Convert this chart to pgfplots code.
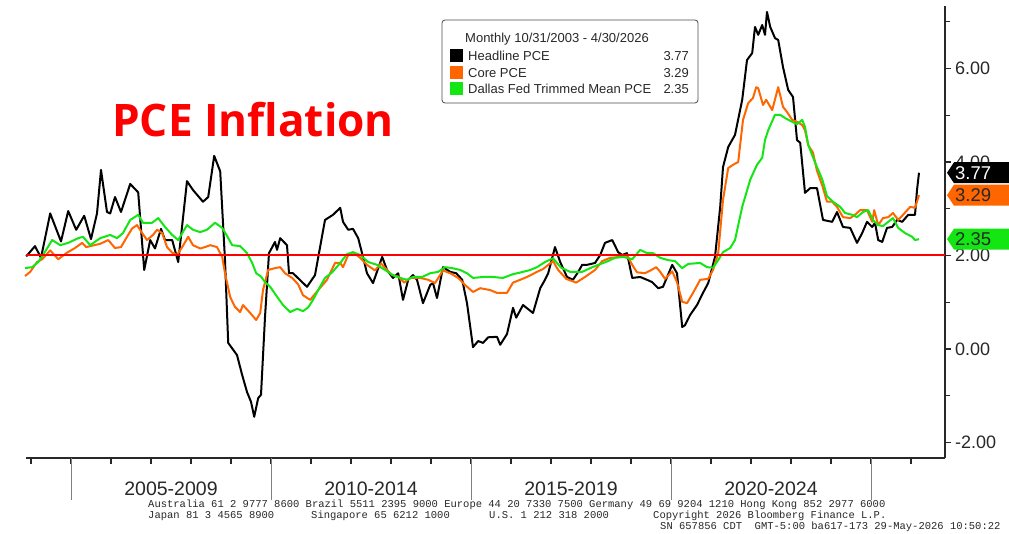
\documentclass[border=0pt]{standalone}
\usepackage{fontspec}
\setmainfont{Liberation Sans}
\setmonofont{Liberation Mono}
\newfontfamily\titlefont{Open Sans}
\usepackage{pgfplots}
\pgfplotsset{compat=1.18}
\definecolor{bborange}{RGB}{255,102,0}
\definecolor{bbgreen}{RGB}{20,230,20}
\definecolor{bbred}{RGB}{255,0,0}
\definecolor{bbaxis}{RGB}{40,40,40}
\begin{document}
\begin{tikzpicture}
\path[use as bounding box, fill=white] (0,0) rectangle (1009pt,534pt);
\begin{axis}[
  at={(26pt,76pt)}, anchor=south west,
  scale only axis, width=919pt, height=452pt,
  xmin=2003.875, xmax=2026.85, ymin=-2.332, ymax=7.337,
  axis x line*=bottom, axis y line*=right,
  axis line style={line width=1.2pt, bbaxis},
  clip=false,
  ytick={-2,0,2,4,6}, yticklabels={-2.00,0.00,2.00,4.00,6.00},
  minor ytick={-1,1,3,5,7},
  xtick={2004,...,2026}, xticklabels={},
  tick align=outside,
  major tick length=6pt, minor tick length=5pt,
  tick style={line width=1.2pt, bbaxis},
  yticklabel style={font=\fontsize{18}{18}\selectfont, text=bbaxis, inner sep=0pt, anchor=west, xshift=4pt},
]
\addplot[black, line width=2pt, line join=round] coordinates {
(2003.88,1.98)(2004.10,2.20)(2004.25,1.95)(2004.48,2.90)(2004.75,2.30)(2004.93,2.95)(2005.13,2.55)(2005.33,2.85)(2005.50,2.35)(2005.65,2.90)(2005.75,3.83)(2005.90,2.93)(2005.98,2.90)(2006.10,3.25)(2006.25,2.93)(2006.48,3.53)(2006.68,3.35)(2006.83,1.69)(2006.98,2.33)(2007.10,2.15)(2007.25,2.57)(2007.35,2.33)(2007.53,2.33)(2007.68,1.86)(2007.90,3.59)(2008.05,3.40)(2008.30,3.15)(2008.43,3.25)(2008.58,4.13)(2008.73,3.80)(2008.85,1.90)(2008.93,0.13)(2009.15,-0.13)(2009.28,-0.56)(2009.40,-0.92)(2009.50,-1.13)(2009.58,-1.45)(2009.68,-1.05)(2009.75,-0.98)(2009.85,0.68)(2009.95,2.05)(2010.10,2.29)(2010.15,2.12)(2010.23,2.37)(2010.40,2.22)(2010.45,1.62)(2010.55,1.62)(2010.90,1.33)(2011.10,1.58)(2011.35,2.76)(2011.55,2.87)(2011.73,3.02)(2011.80,2.72)(2011.93,2.55)(2012.05,2.57)(2012.18,2.37)(2012.30,1.97)(2012.40,1.62)(2012.55,1.41)(2012.78,1.97)(2012.90,1.69)(2013.05,1.52)(2013.18,1.62)(2013.30,1.05)(2013.43,1.48)(2013.55,1.58)(2013.65,1.48)(2013.80,0.98)(2013.98,1.37)(2014.05,1.41)(2014.15,1.09)(2014.30,1.75)(2014.48,1.65)(2014.63,1.62)(2014.78,1.48)(2014.90,0.98)(2015.05,0.04)(2015.18,0.17)(2015.30,0.13)(2015.43,0.25)(2015.65,0.26)(2015.73,0.09)(2015.90,0.32)(2016.05,0.88)(2016.13,0.67)(2016.30,0.94)(2016.55,0.77)(2016.73,1.30)(2016.83,1.45)(2016.93,1.62)(2017.10,2.18)(2017.23,1.86)(2017.40,1.54)(2017.55,1.48)(2017.68,1.65)(2017.78,1.80)(2017.90,1.80)(2018.10,1.84)(2018.23,2.01)(2018.35,2.27)(2018.53,2.33)(2018.68,2.07)(2018.78,2.01)(2018.90,2.05)(2019.03,1.52)(2019.23,1.54)(2019.40,1.48)(2019.53,1.43)(2019.68,1.30)(2019.80,1.33)(2020.03,1.80)(2020.15,1.62)(2020.28,0.47)(2020.35,0.51)(2020.48,0.73)(2020.65,0.94)(2020.80,1.20)(2020.93,1.41)(2021.10,1.97)(2021.23,3.04)(2021.30,3.89)(2021.43,4.32)(2021.60,4.58)(2021.78,5.33)(2021.90,6.18)(2022.03,6.33)(2022.10,6.89)(2022.18,6.72)(2022.28,6.93)(2022.35,6.72)(2022.40,7.21)(2022.48,6.89)(2022.60,6.65)(2022.68,6.61)(2022.80,6.03)(2022.93,5.54)(2023.05,5.39)(2023.15,4.47)(2023.23,4.41)(2023.35,3.34)(2023.48,3.44)(2023.65,3.44)(2023.80,2.76)(2024.03,2.72)(2024.15,2.93)(2024.30,2.61)(2024.48,2.59)(2024.65,2.27)(2024.78,2.48)(2024.90,2.72)(2025.03,2.61)(2025.10,2.70)(2025.18,2.33)(2025.28,2.29)(2025.40,2.59)(2025.53,2.61)(2025.65,2.76)(2025.78,2.72)(2025.93,2.87)(2026.10,2.87)(2026.15,3.40)(2026.20,3.77)
};
\addplot[bborange, line width=2pt, line join=round] coordinates {
(2003.85,1.56)(2003.98,1.65)(2004.15,1.86)(2004.28,1.92)(2004.48,2.11)(2004.68,1.92)(2004.90,2.06)(2005.10,2.16)(2005.28,2.27)(2005.38,2.18)(2005.48,2.20)(2005.73,2.25)(2005.93,2.33)(2006.10,2.16)(2006.25,2.18)(2006.40,2.40)(2006.53,2.58)(2006.65,2.65)(2006.78,2.48)(2006.90,2.33)(2007.05,2.44)(2007.15,2.55)(2007.28,2.48)(2007.40,2.18)(2007.53,2.06)(2007.65,2.01)(2007.78,2.18)(2007.93,2.40)(2008.05,2.22)(2008.23,2.15)(2008.35,2.18)(2008.48,2.22)(2008.65,2.18)(2008.78,1.97)(2008.85,1.62)(2008.98,1.11)(2009.10,0.90)(2009.23,0.79)(2009.30,0.94)(2009.48,0.77)(2009.63,0.62)(2009.73,0.77)(2009.80,1.26)(2009.93,1.69)(2010.10,1.73)(2010.23,1.75)(2010.35,1.62)(2010.53,1.52)(2010.68,1.38)(2010.80,1.15)(2010.98,1.05)(2011.18,1.26)(2011.40,1.48)(2011.60,1.84)(2011.73,1.84)(2011.80,1.75)(2011.93,2.01)(2012.05,2.07)(2012.23,1.95)(2012.40,1.80)(2012.60,1.68)(2012.75,1.83)(2012.90,1.69)(2013.03,1.58)(2013.18,1.55)(2013.33,1.42)(2013.48,1.52)(2013.73,1.52)(2013.93,1.48)(2014.10,1.41)(2014.30,1.68)(2014.48,1.62)(2014.68,1.52)(2014.85,1.37)(2015.05,1.22)(2015.23,1.30)(2015.48,1.26)(2015.65,1.20)(2015.90,1.20)(2016.05,1.42)(2016.23,1.48)(2016.40,1.54)(2016.65,1.65)(2016.80,1.71)(2017.05,1.88)(2017.18,1.69)(2017.38,1.50)(2017.63,1.42)(2017.85,1.54)(2018.10,1.69)(2018.28,1.88)(2018.48,1.95)(2018.73,1.97)(2018.90,2.01)(2019.03,1.80)(2019.15,1.64)(2019.35,1.62)(2019.53,1.70)(2019.63,1.75)(2019.73,1.65)(2019.85,1.50)(2020.03,1.66)(2020.15,1.43)(2020.28,1.01)(2020.40,0.98)(2020.55,1.20)(2020.73,1.48)(2020.93,1.50)(2021.05,1.69)(2021.18,2.05)(2021.30,3.19)(2021.43,3.87)(2021.55,3.94)(2021.68,4.00)(2021.80,4.90)(2021.93,5.26)(2022.05,5.37)(2022.13,5.60)(2022.18,5.58)(2022.30,5.22)(2022.38,5.33)(2022.53,5.11)(2022.68,5.60)(2022.80,5.18)(2022.90,5.07)(2023.03,4.90)(2023.15,4.86)(2023.28,4.79)(2023.35,4.68)(2023.43,4.36)(2023.55,4.20)(2023.65,3.81)(2023.78,3.50)(2023.90,3.15)(2024.03,3.15)(2024.15,3.04)(2024.30,2.82)(2024.48,2.80)(2024.60,2.87)(2024.73,2.97)(2024.90,2.97)(2025.03,2.72)(2025.08,2.97)(2025.18,2.65)(2025.30,2.80)(2025.43,2.82)(2025.55,2.91)(2025.68,2.76)(2025.80,2.87)(2025.98,3.04)(2026.10,3.02)(2026.20,3.29)
};
\addplot[bbgreen, line width=2pt, line join=round] coordinates {
(2003.85,1.73)(2004.03,1.75)(2004.18,1.86)(2004.30,2.01)(2004.53,2.33)(2004.73,2.22)(2004.93,2.27)(2005.18,2.37)(2005.30,2.40)(2005.48,2.22)(2005.73,2.37)(2005.98,2.44)(2006.15,2.37)(2006.30,2.48)(2006.48,2.76)(2006.68,2.87)(2006.80,2.70)(2007.03,2.70)(2007.18,2.80)(2007.35,2.61)(2007.53,2.44)(2007.68,2.33)(2007.90,2.65)(2008.05,2.55)(2008.23,2.50)(2008.40,2.55)(2008.60,2.70)(2008.78,2.59)(2008.90,2.42)(2009.03,2.22)(2009.23,2.20)(2009.40,2.05)(2009.53,1.84)(2009.63,1.62)(2009.75,1.55)(2009.85,1.43)(2009.98,1.33)(2010.15,1.12)(2010.30,0.94)(2010.48,0.79)(2010.65,0.86)(2010.80,0.81)(2010.93,0.89)(2011.05,1.05)(2011.18,1.26)(2011.35,1.52)(2011.53,1.64)(2011.73,1.84)(2011.90,2.03)(2012.05,2.07)(2012.23,2.01)(2012.43,1.86)(2012.65,1.80)(2012.85,1.69)(2013.05,1.58)(2013.23,1.52)(2013.40,1.48)(2013.55,1.54)(2013.78,1.54)(2013.98,1.62)(2014.18,1.65)(2014.35,1.75)(2014.53,1.73)(2014.73,1.69)(2014.90,1.62)(2015.05,1.52)(2015.30,1.54)(2015.55,1.54)(2015.80,1.52)(2016.05,1.60)(2016.30,1.65)(2016.48,1.69)(2016.65,1.75)(2016.85,1.86)(2017.05,1.94)(2017.25,1.74)(2017.48,1.65)(2017.78,1.65)(2017.98,1.73)(2018.18,1.80)(2018.40,1.87)(2018.60,1.95)(2018.80,1.97)(2019.03,1.92)(2019.23,2.12)(2019.40,2.05)(2019.55,2.05)(2019.73,1.95)(2019.93,1.90)(2020.10,1.88)(2020.28,1.73)(2020.43,1.82)(2020.73,1.84)(2020.90,1.75)(2021.05,1.74)(2021.18,1.90)(2021.30,2.07)(2021.48,2.16)(2021.60,2.33)(2021.78,3.04)(2021.98,3.62)(2022.15,3.94)(2022.28,4.09)(2022.35,4.47)(2022.43,4.68)(2022.60,5.01)(2022.73,5.01)(2022.85,4.94)(2023.03,4.86)(2023.15,4.81)(2023.28,4.90)(2023.35,4.75)(2023.43,4.37)(2023.55,4.10)(2023.65,3.89)(2023.78,3.63)(2023.90,3.27)(2024.05,3.15)(2024.23,3.04)(2024.35,2.91)(2024.53,2.87)(2024.65,2.82)(2024.80,2.93)(2024.93,2.97)(2025.05,2.76)(2025.18,2.65)(2025.30,2.63)(2025.43,2.72)(2025.55,2.80)(2025.68,2.59)(2025.85,2.48)(2026.03,2.40)(2026.10,2.33)(2026.20,2.35)
};
\addplot[draw=bbred, color=bbred, line width=2pt, mark=none] coordinates {(2003.875,2) (2026.85,2)};
\pgfplotsinvokeforeach{2005,2010,2015,2020,2025}{
  \draw[gray, line width=0.8pt] (axis cs:#1,-2.332) -- ++(0pt,-42pt);
}
\node[anchor=base, inner sep=0pt, yshift=-38pt, font=\fontsize{19.5}{19.5}\selectfont, text=bbaxis] at (axis cs:2007.5,-2.332) {2005-2009};
\node[anchor=base, inner sep=0pt, yshift=-38pt, font=\fontsize{19.5}{19.5}\selectfont, text=bbaxis] at (axis cs:2012.5,-2.332) {2010-2014};
\node[anchor=base, inner sep=0pt, yshift=-38pt, font=\fontsize{19.5}{19.5}\selectfont, text=bbaxis] at (axis cs:2017.5,-2.332) {2015-2019};
\node[anchor=base, inner sep=0pt, yshift=-38pt, font=\fontsize{19.5}{19.5}\selectfont, text=bbaxis] at (axis cs:2022.5,-2.332) {2020-2024};
\coordinate (b1) at (axis cs:2026.85,3.77);
\coordinate (b2) at (axis cs:2026.85,3.29);
\coordinate (b3) at (axis cs:2026.85,2.35);
\end{axis}
% value boxes
\fill[black] ([xshift=2pt]b1) -- ++(7pt,10.5pt) -- ++(60pt,0pt) -- ++(0pt,-21pt) -- ++(-60pt,0pt) -- cycle;
\node[anchor=west, inner sep=0pt, text=white, font=\fontsize{18.5}{18.5}\selectfont] at ([xshift=10pt]b1) {3.77};
\fill[bborange] ([xshift=2pt]b2) -- ++(7pt,10.5pt) -- ++(60pt,0pt) -- ++(0pt,-21pt) -- ++(-60pt,0pt) -- cycle;
\node[anchor=west, inner sep=0pt, text=bbaxis, font=\fontsize{18.5}{18.5}\selectfont] at ([xshift=10pt]b2) {3.29};
\fill[bbgreen] ([xshift=2pt]b3) -- ++(7pt,10.5pt) -- ++(60pt,0pt) -- ++(0pt,-21pt) -- ++(-60pt,0pt) -- cycle;
\node[anchor=west, inner sep=0pt, text=bbaxis, font=\fontsize{18.5}{18.5}\selectfont] at ([xshift=10pt]b3) {2.35};
% legend
\draw[rounded corners=3pt, gray!60!black, line width=0.8pt, fill=white] (442pt,431pt) rectangle (698pt,514pt);
\node[anchor=base west, inner sep=0pt, font=\fontsize{13}{13}\selectfont, text=bbaxis] at (465pt,491pt) {Monthly 10/31/2003 - 4/30/2026};
\fill[black] (450pt,471.5pt) rectangle (463pt,484.5pt);
\fill[bborange] (450pt,454.5pt) rectangle (463pt,467.5pt);
\fill[bbgreen] (450pt,438.5pt) rectangle (463pt,451.5pt);
\node[anchor=base west, inner sep=0pt, font=\fontsize{13}{13}\selectfont, text=bbaxis] at (468pt,473.3pt) {Headline PCE};
\node[anchor=base west, inner sep=0pt, font=\fontsize{13}{13}\selectfont, text=bbaxis] at (468pt,456.3pt) {Core PCE};
\node[anchor=base west, inner sep=0pt, font=\fontsize{13}{13}\selectfont, text=bbaxis] at (468pt,440.3pt) {Dallas Fed Trimmed Mean PCE};
\node[anchor=base east, inner sep=0pt, font=\fontsize{13}{13}\selectfont, text=bbaxis] at (689pt,473.3pt) {3.77};
\node[anchor=base east, inner sep=0pt, font=\fontsize{13}{13}\selectfont, text=bbaxis] at (689pt,456.3pt) {3.29};
\node[anchor=base east, inner sep=0pt, font=\fontsize{13}{13}\selectfont, text=bbaxis] at (689pt,440.3pt) {2.35};
% title
\node[anchor=base west, inner sep=0pt, text=bbred, font=\titlefont\bfseries\fontsize{44.8}{50}\selectfont] at (112pt,397pt) {\scalebox{0.985}[1]{PCE Inflation}};
% footer
\node[anchor=base west, inner sep=0pt, font=\ttfamily\fontsize{10.5}{10.5}\selectfont, text=bbaxis] at (148pt,26pt) {Australia 61 2 9777 8600 Brazil 5511 2395 9000 Europe 44 20 7330 7500 Germany 49 69 9204 1210 Hong Kong 852 2977 6000};
\node[anchor=base west, inner sep=0pt, font=\ttfamily\fontsize{10.5}{10.5}\selectfont, text=bbaxis] at (148pt,15pt) {Japan 81 3 4565 8900};
\node[anchor=base west, inner sep=0pt, font=\ttfamily\fontsize{10.5}{10.5}\selectfont, text=bbaxis] at (311pt,15pt) {Singapore 65 6212 1000};
\node[anchor=base west, inner sep=0pt, font=\ttfamily\fontsize{10.5}{10.5}\selectfont, text=bbaxis] at (489pt,15pt) {U.S. 1 212 318 2000};
\node[anchor=base west, inner sep=0pt, font=\ttfamily\fontsize{10.5}{10.5}\selectfont, text=bbaxis] at (653pt,15pt) {Copyright 2026 Bloomberg Finance L.P.};
\node[anchor=base west, inner sep=0pt, font=\ttfamily\fontsize{10.5}{10.5}\selectfont, text=bbaxis] at (660pt,4pt) {SN 657856 CDT\ \ GMT-5:00 ba617-173 29-May-2026 10:50:22};
\end{tikzpicture}
\end{document}
